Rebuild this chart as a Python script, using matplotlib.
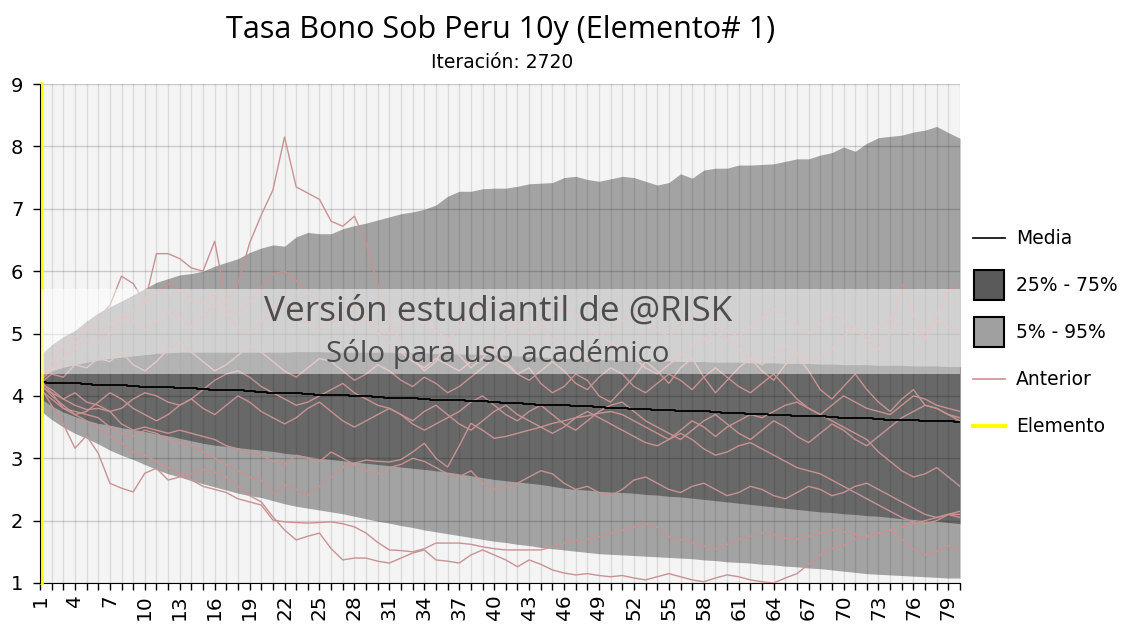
import matplotlib
matplotlib.use("Agg")
import matplotlib.pyplot as plt
import matplotlib.transforms as mtransforms
from matplotlib.lines import Line2D
from matplotlib.patches import Rectangle

# ---------------- data ----------------
x_vals = list(range(1, 81))

p95 = [4.65, 4.82, 4.95, 5.05, 5.20, 5.33, 5.43, 5.52, 5.62, 5.72,
       5.82, 5.88, 5.94, 5.96, 6.00, 6.08, 6.14, 6.20, 6.30, 6.37,
       6.42, 6.40, 6.55, 6.62, 6.60, 6.60, 6.68, 6.73, 6.77, 6.82,
       6.87, 6.92, 6.95, 6.99, 7.06, 7.20, 7.28, 7.28, 7.32, 7.33,
       7.33, 7.36, 7.40, 7.41, 7.42, 7.50, 7.52, 7.47, 7.44, 7.48,
       7.52, 7.50, 7.44, 7.38, 7.42, 7.56, 7.49, 7.62, 7.65, 7.65,
       7.70, 7.70, 7.71, 7.72, 7.76, 7.80, 7.80, 7.86, 7.90, 7.99,
       7.92, 8.05, 8.14, 8.16, 8.18, 8.23, 8.26, 8.32, 8.22, 8.13]

p75 = [4.30, 4.40, 4.46, 4.50, 4.54, 4.57, 4.60, 4.62, 4.64, 4.66,
       4.68, 4.69, 4.70, 4.70, 4.70, 4.70, 4.70, 4.70, 4.70, 4.70,
       4.70, 4.70, 4.71, 4.71, 4.71, 4.70, 4.70, 4.70, 4.70, 4.70,
       4.70, 4.69, 4.69, 4.69, 4.68, 4.68, 4.67, 4.67, 4.66, 4.66,
       4.65, 4.64, 4.63, 4.62, 4.61, 4.60, 4.60, 4.59, 4.58, 4.58,
       4.57, 4.57, 4.56, 4.56, 4.56, 4.55, 4.55, 4.55, 4.54, 4.54,
       4.54, 4.53, 4.53, 4.53, 4.52, 4.52, 4.52, 4.51, 4.51, 4.50,
       4.50, 4.50, 4.49, 4.49, 4.49, 4.48, 4.48, 4.48, 4.47, 4.47]

p25 = [3.96, 3.84, 3.74, 3.67, 3.61, 3.56, 3.53, 3.49, 3.46, 3.43,
       3.39, 3.36, 3.32, 3.28, 3.24, 3.21, 3.19, 3.17, 3.15, 3.13,
       3.11, 3.08, 3.06, 3.03, 3.00, 2.98, 2.96, 2.94, 2.92, 2.90,
       2.88, 2.86, 2.84, 2.82, 2.80, 2.78, 2.75, 2.72, 2.69, 2.66,
       2.64, 2.62, 2.60, 2.58, 2.55, 2.52, 2.50, 2.49, 2.47, 2.46,
       2.45, 2.44, 2.42, 2.41, 2.39, 2.38, 2.36, 2.34, 2.32, 2.30,
       2.28, 2.26, 2.24, 2.22, 2.20, 2.18, 2.16, 2.14, 2.13, 2.11,
       2.10, 2.08, 2.07, 2.05, 2.03, 2.02, 2.00, 1.99, 1.97, 1.95]

p05 = [3.77, 3.62, 3.50, 3.40, 3.32, 3.23, 3.13, 3.05, 2.98, 2.90,
       2.82, 2.75, 2.70, 2.64, 2.59, 2.54, 2.49, 2.44, 2.40, 2.37,
       2.32, 2.27, 2.23, 2.20, 2.17, 2.14, 2.11, 2.07, 2.03, 1.99,
       1.96, 1.92, 1.89, 1.85, 1.82, 1.79, 1.76, 1.73, 1.70, 1.67,
       1.65, 1.62, 1.60, 1.57, 1.55, 1.53, 1.51, 1.49, 1.47, 1.46,
       1.45, 1.44, 1.43, 1.42, 1.41, 1.40, 1.39, 1.37, 1.36, 1.34,
       1.33, 1.32, 1.30, 1.29, 1.27, 1.26, 1.24, 1.23, 1.21, 1.19,
       1.17, 1.15, 1.14, 1.13, 1.12, 1.11, 1.10, 1.09, 1.08, 1.08]

media = [4.22, 4.21, 4.20, 4.20, 4.19, 4.18, 4.17, 4.17, 4.16, 4.15,
         4.14, 4.14, 4.13, 4.12, 4.11, 4.10, 4.10, 4.09, 4.08, 4.07,
         4.05, 4.05, 4.04, 4.03, 4.02, 4.01, 4.01, 4.00, 3.99, 3.98,
         3.97, 3.97, 3.96, 3.95, 3.94, 3.93, 3.93, 3.92, 3.91, 3.90,
         3.89, 3.88, 3.87, 3.86, 3.85, 3.85, 3.84, 3.83, 3.82, 3.81,
         3.80, 3.79, 3.79, 3.78, 3.77, 3.76, 3.75, 3.75, 3.74, 3.73,
         3.72, 3.71, 3.71, 3.70, 3.69, 3.68, 3.67, 3.67, 3.66, 3.65,
         3.64, 3.64, 3.63, 3.62, 3.62, 3.61, 3.60, 3.60, 3.59, 3.58]

anterior_1 = [4.30, 4.45, 4.60, 4.85, 5.05, 5.25, 5.45, 5.92, 5.80, 5.50,
              6.28, 6.28, 6.20, 6.05, 6.00, 6.48, 5.50, 5.80, 6.45, 6.90,
              7.30, 8.15, 7.35, 7.25, 7.15, 6.80, 6.72, 6.88, 6.45, 5.80,
              5.20, 4.85, 4.60, 4.40, 4.55, 4.90, 4.65, 4.45, 4.60, 4.80,
              4.55, 4.35, 4.45, 4.20, 4.05, 4.15, 4.35, 4.25, 4.00, 3.90,
              4.10, 4.30, 4.55, 4.40, 4.20, 4.45, 4.60, 4.30, 4.05, 4.25,
              4.45, 4.60, 4.40, 4.25, 4.50, 4.65, 4.40, 4.10, 3.95, 4.15,
              4.35, 4.10, 3.90, 3.75, 3.95, 4.10, 3.85, 3.80, 3.70, 3.60]

anterior_2 = [4.15, 3.85, 3.55, 3.16, 3.36, 3.08, 2.60, 2.52, 2.46, 2.76,
              2.84, 2.65, 2.70, 2.75, 2.82, 2.78, 2.70, 2.55, 2.40, 2.30,
              2.06, 1.85, 1.69, 1.75, 1.80, 1.55, 1.37, 1.40, 1.40, 1.35,
              1.32, 1.40, 1.48, 1.53, 1.37, 1.35, 1.32, 1.45, 1.53, 1.45,
              1.37, 1.26, 1.37, 1.30, 1.21, 1.16, 1.13, 1.15, 1.12, 1.10,
              1.12, 1.08, 1.05, 1.10, 1.15, 1.10, 1.05, 1.02, 1.08, 1.13,
              1.10, 1.05, 1.02, 1.00, 1.08, 1.15, 1.30, 1.45, 1.55, 1.60,
              1.70, 1.75, 1.80, 1.85, 1.90, 1.95, 2.00, 2.05, 2.10, 2.15]

anterior_3 = [4.25, 4.05, 3.80, 3.70, 3.60, 3.50, 3.35, 3.25, 3.10, 3.05,
              2.95, 2.85, 2.75, 2.65, 2.55, 2.50, 2.45, 2.35, 2.30, 2.25,
              2.01, 1.98, 1.97, 1.96, 1.97, 1.98, 1.95, 1.90, 1.80, 1.65,
              1.53, 1.52, 1.50, 1.55, 1.64, 1.64, 1.64, 1.62, 1.58, 1.55,
              1.53, 1.53, 1.53, 1.53, 1.58, 1.64, 1.68, 1.70, 1.74, 1.80,
              1.85, 1.90, 1.95, 1.90, 1.75, 1.70, 1.65, 1.60, 1.55, 1.62,
              1.70, 1.75, 1.80, 1.78, 1.72, 1.70, 1.75, 1.80, 1.85, 1.82,
              1.78, 1.75, 1.80, 1.85, 1.70, 1.55, 1.45, 1.50, 1.60, 1.50]

anterior_4 = [4.10, 3.95, 3.80, 3.75, 3.70, 3.65, 3.50, 3.40, 3.35, 3.45,
              3.40, 3.30, 3.25, 3.20, 3.10, 3.00, 2.90, 2.80, 2.70, 2.65,
              2.44, 2.57, 2.50, 2.41, 2.55, 2.70, 2.86, 2.92, 2.97, 2.95,
              2.94, 2.98, 3.10, 3.24, 3.00, 2.86, 3.20, 3.56, 3.45, 3.32,
              3.35, 3.40, 3.45, 3.50, 3.56, 3.60, 3.65, 3.68, 3.72, 3.75,
              3.70, 3.60, 3.50, 3.40, 3.30, 3.45, 3.60, 3.50, 3.35, 3.50,
              3.60, 3.70, 3.65, 3.75, 3.85, 3.90, 3.80, 3.70, 3.60, 3.50,
              3.40, 3.30, 3.10, 2.95, 2.80, 2.70, 2.75, 2.85, 2.70, 2.55]

anterior_5 = [4.20, 4.10, 3.95, 3.85, 3.78, 3.80, 3.75, 3.55, 3.45, 3.50,
              3.45, 3.40, 3.45, 3.40, 3.35, 3.30, 3.20, 3.15, 3.10, 3.05,
              2.95, 2.90, 3.05, 3.00, 2.95, 3.10, 3.00, 2.90, 2.80, 2.75,
              2.85, 2.90, 3.00, 2.95, 2.85, 2.75, 2.70, 2.80, 2.60, 2.50,
              2.55, 2.60, 2.70, 2.80, 2.75, 2.60, 2.50, 2.55, 2.45, 2.40,
              2.50, 2.65, 2.70, 2.60, 2.50, 2.45, 2.55, 2.60, 2.50, 2.40,
              2.45, 2.55, 2.50, 2.40, 2.35, 2.45, 2.55, 2.50, 2.40, 2.45,
              2.55, 2.60, 2.50, 2.40, 2.30, 2.20, 2.10, 2.05, 2.10, 2.10]

anterior_6 = [4.25, 4.40, 4.60, 4.75, 4.90, 4.85, 5.00, 5.20, 5.35, 5.50,
              5.65, 5.80, 5.70, 5.55, 5.50, 5.65, 5.40, 5.30, 5.50, 5.75,
              5.95, 6.00, 5.85, 5.65, 5.45, 5.30, 5.20, 5.10, 5.25, 5.00,
              4.85, 4.70, 4.55, 4.45, 4.60, 4.50, 4.40, 4.55, 4.70, 4.85,
              5.00, 5.15, 5.25, 5.10, 4.90, 4.85, 4.70, 4.55, 4.70, 4.85,
              4.75, 4.60, 4.45, 4.35, 4.50, 4.65, 4.80, 4.90, 5.05, 4.90,
              4.75, 4.60, 4.50, 4.65, 4.80, 4.70, 4.55, 4.60, 4.75, 4.95,
              5.10, 4.90, 4.75, 5.00, 5.80, 5.30, 4.90, 5.30, 5.70, 5.75]

anterior_7 = [4.20, 4.35, 4.30, 4.50, 4.45, 4.60, 4.55, 4.70, 4.50, 4.40,
              4.55, 4.75, 4.85, 4.70, 4.55, 4.40, 4.50, 4.65, 4.80, 4.70,
              4.55, 4.40, 4.30, 4.45, 4.60, 4.55, 4.40, 4.25, 4.35, 4.50,
              4.40, 4.25, 4.15, 4.30, 4.20, 4.05, 4.15, 4.30, 4.45, 4.60,
              4.50, 4.35, 4.25, 4.40, 4.55, 4.40, 4.20, 4.10, 4.30, 4.45,
              4.35, 4.15, 4.05, 4.20, 4.35, 4.25, 4.10, 4.30, 4.45, 4.30,
              4.15, 4.05, 4.20, 4.35, 4.15, 3.95, 3.80, 3.70, 3.85, 4.00,
              3.90, 3.80, 3.75, 3.70, 3.85, 4.00, 3.95, 3.85, 3.80, 3.75]

anterior_8 = [4.15, 4.05, 3.95, 4.05, 3.90, 3.85, 3.75, 3.80, 3.95, 4.05,
              4.00, 3.90, 3.85, 3.95, 4.10, 4.25, 4.35, 4.40, 4.30, 4.15,
              4.05, 3.95, 3.85, 3.90, 4.00, 4.10, 4.20, 4.05, 3.95, 3.85,
              3.80, 3.70, 3.60, 3.75, 3.85, 3.70, 3.55, 3.45, 3.60, 3.75,
              3.85, 3.70, 3.60, 3.50, 3.40, 3.50, 3.65, 3.75, 3.65, 3.55,
              3.45, 3.35, 3.25, 3.20, 3.30, 3.40, 3.30, 3.15, 3.05, 3.10,
              3.20, 3.25, 3.15, 3.05, 2.95, 2.85, 2.80, 2.75, 2.65, 2.55,
              2.45, 2.35, 2.25, 2.15, 2.05, 1.98, 1.95, 2.00, 2.10, 2.05]

anterior_9 = [4.35, 4.55, 4.80, 4.95, 5.10, 5.00, 5.15, 5.30, 5.20, 5.05,
              5.20, 5.35, 5.25, 5.10, 5.30, 5.45, 5.30, 5.10, 5.00, 5.20,
              5.40, 5.55, 5.35, 5.15, 5.05, 5.20, 5.35, 5.45, 5.30, 5.10,
              5.00, 5.15, 5.30, 5.20, 5.05, 4.90, 5.10, 5.35, 5.50, 5.40,
              5.25, 5.10, 5.00, 5.15, 5.30, 5.45, 5.30, 5.10, 4.95, 5.05,
              5.20, 5.35, 5.20, 5.05, 4.95, 5.10, 5.25, 5.35, 5.20, 5.05,
              4.95, 5.10, 5.25, 5.40, 5.25, 5.10, 5.00, 5.15, 5.30, 5.20,
              5.05, 4.95, 5.10, 5.25, 5.10, 4.95, 5.05, 5.20, 5.10, 5.00]

anterior_10 = [4.20, 4.00, 3.85, 3.70, 3.75, 3.90, 4.05, 3.95, 3.80, 3.70,
               3.60, 3.70, 3.85, 3.95, 3.80, 3.70, 3.85, 4.00, 3.90, 3.75,
               3.65, 3.55, 3.65, 3.80, 3.90, 3.75, 3.60, 3.50, 3.60, 3.70,
               3.80, 3.70, 3.55, 3.45, 3.55, 3.65, 3.75, 3.90, 4.00, 3.85,
               3.70, 3.60, 3.75, 3.85, 3.70, 3.55, 3.45, 3.60, 3.75, 3.85,
               3.90, 3.75, 3.60, 3.50, 3.40, 3.30, 3.45, 3.60, 3.70, 3.55,
               3.40, 3.30, 3.45, 3.60, 3.50, 3.35, 3.25, 3.40, 3.55, 3.45,
               3.30, 3.20, 3.35, 3.50, 3.65, 3.75, 3.85, 3.80, 3.70, 3.65]

anteriores = [anterior_1, anterior_2, anterior_3, anterior_4, anterior_5,
              anterior_6, anterior_7, anterior_8, anterior_9, anterior_10]

elemento_x = 1
x_tick_labels = [str(v) for v in range(1, 80, 3)]
y_ticks = [1, 2, 3, 4, 5, 6, 7, 8, 9]

title = "Tasa Bono Sob Peru 10y (Elemento# 1)"
subtitle = "Iteración: 2720"
watermark_1 = "Versión estudiantil de @RISK"
watermark_2 = "Sólo para uso académico"
legend_labels = ["Media", "25% - 75%", "5% - 95%", "Anterior", "Elemento"]

# ---------------- style ----------------
BG = "#f4f4f4"
LIGHT = "#a3a3a3"
DARK = "#686868"
PINK = "#c99292"
YELLOW = "#ffff00"

W, H = 1132, 638
fig = plt.figure(figsize=(W / 100, H / 100), dpi=100)
fig.patch.set_facecolor("white")
ax = fig.add_axes([40 / W, 1 - 583 / H, 920 / W, 499 / H])
ax.set_facecolor(BG)

ax.fill_between(x_vals, p05, p95, color=LIGHT, lw=0, zorder=1)
ax.fill_between(x_vals, p25, p75, color=DARK, lw=0, zorder=2)

# grid
for xv in x_vals:
    ax.axvline(xv, color="black", alpha=0.10, lw=1, zorder=3)
for yv in y_ticks:
    ax.axhline(yv, color="black", alpha=0.17, lw=1, zorder=3)

for s in anteriores:
    ax.plot(x_vals, s, color=PINK, lw=1, zorder=4)

ax.plot(x_vals, media, color="black", lw=1.3, zorder=5, drawstyle="steps-mid")

offset = mtransforms.ScaledTranslation(2 / 100, 0, fig.dpi_scale_trans)
ax.plot([elemento_x, elemento_x], [0, 1], color=YELLOW, lw=2.6, zorder=6,
        transform=ax.get_xaxis_transform() + offset, clip_on=False)

# watermark
ax.axhspan(4.35, 5.72, color="white", alpha=0.5, lw=0, zorder=7)
ax.text(0.498, 1 - (312 - 84) / 499, watermark_1, transform=ax.transAxes,
        ha="center", va="center", fontsize=25.3, color="#4d4d4d",
        family="Open Sans", zorder=8)
ax.text(0.498, 1 - (354 - 84) / 499, watermark_2, transform=ax.transAxes,
        ha="center", va="center", fontsize=21.3, color="#4d4d4d",
        family="Open Sans", zorder=8)

ax.set_xlim(1, 80)
ax.set_ylim(1, 9)
ax.set_xticks(x_vals, minor=True)
ax.set_xticks(list(range(1, 80, 3)))
ax.set_xticklabels(x_tick_labels, rotation=90, fontsize=14.5)
ax.set_yticks(y_ticks)
ax.set_yticklabels([str(v) for v in y_ticks], fontsize=14)
ax.tick_params(axis="x", which="both", length=5, width=1, direction="out",
               pad=3, colors="black")
ax.tick_params(axis="y", length=5, width=1, direction="out", pad=7)
for sp in ["top", "right"]:
    ax.spines[sp].set_visible(False)
ax.spines["left"].set_color("black")
ax.spines["bottom"].set_color("black")
ax.spines["left"].set_zorder(9)

# titles
fig.text(501 / W, 1 - 30 / H, title, ha="center", va="center",
         fontsize=22, family="Open Sans", color="black")
fig.text(502 / W, 1 - 62 / H, subtitle, ha="center", va="center",
         fontsize=13.5, family="DejaVu Sans", color="black")

# legend (manual)
ys = [238, 285, 332, 379, 426]
lx0, lx1, tx = 973, 1005, 1016
fig.add_artist(Line2D([lx0 / W, lx1 / W], [1 - ys[0] / H] * 2,
                      color="black", lw=1.2))
fig.add_artist(Rectangle((974 / W, 1 - (ys[1] + 15) / H), 30 / W, 30 / H,
                         facecolor="#5a5a5a", edgecolor="black", lw=1.5))
fig.add_artist(Rectangle((974 / W, 1 - (ys[2] + 15) / H), 30 / W, 30 / H,
                         facecolor="#a0a0a0", edgecolor="black", lw=1.5))
fig.add_artist(Line2D([lx0 / W, lx1 / W], [1 - ys[3] / H] * 2,
                      color=PINK, lw=1.2))
fig.add_artist(Line2D([lx0 / W, lx1 / W], [1 - ys[4] / H] * 2,
                      color=YELLOW, lw=3))
for lab, yy in zip(legend_labels, ys):
    fig.text(tx / W, 1 - yy / H, lab, ha="left", va="center",
             fontsize=13.5, family="DejaVu Sans", color="black")

fig.savefig("out.png", dpi=100, facecolor="white")
